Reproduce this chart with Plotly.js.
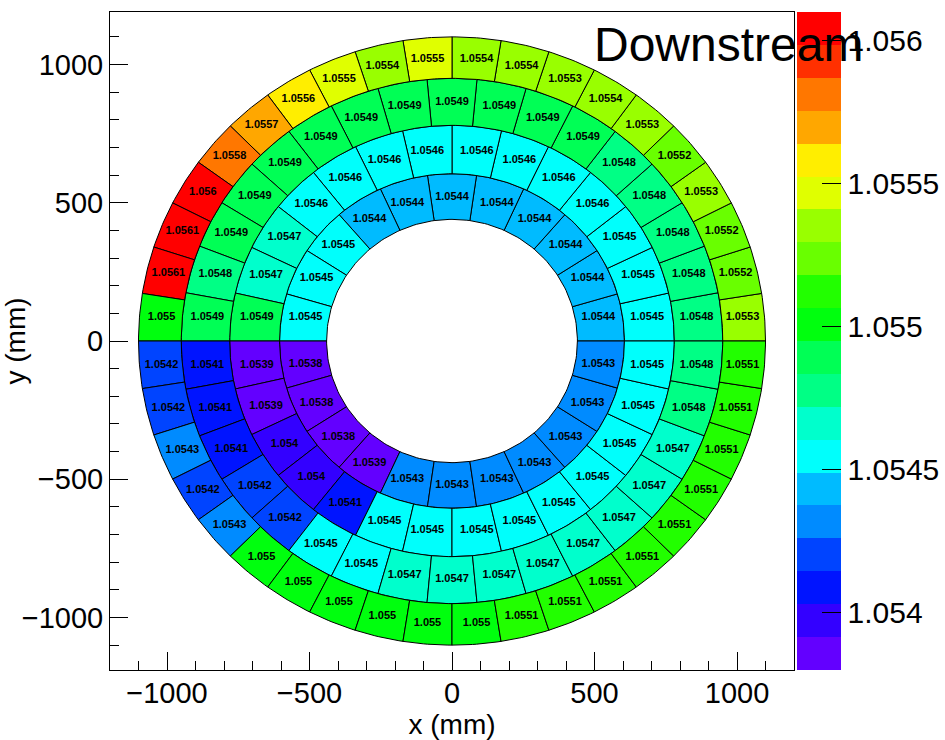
<!DOCTYPE html>
<html>
<head>
<meta charset="utf-8">
<script src="https://cdn.plot.ly/plotly-3.0.1.min.js"></script>
<style>
  html, body { margin: 0; padding: 0; background: #ffffff; }
  #plot { width: 945px; height: 740px; }
</style>
</head>
<body>
<div id="plot"></div>
<script>
// Ring boundaries in mm, from the inner hole outwards
const ringEdges = [440, 605, 780, 950, 1100];

// Sector values for each ring. Sector 0 starts on the +x axis,
// sectors run counter-clockwise with equal angular width.
const ring1 = [
  1.0544, 1.0544, 1.0544, 1.0544, 1.0544, 1.0544, 1.0544, 1.0544, 1.0545, 1.0545, 1.0545,
  1.0538, 1.0538, 1.0538, 1.0539, 1.0543, 1.0543, 1.0543, 1.0543, 1.0543, 1.0543, 1.0543
];
const ring2 = [
  1.0545, 1.0545, 1.0545, 1.0546, 1.0546, 1.0546, 1.0546, 1.0546, 1.0546, 1.0546, 1.0546, 1.0547, 1.0547, 1.0549,
  1.0539, 1.0539, 1.054, 1.054, 1.0541, 1.0545, 1.0545, 1.0545, 1.0545, 1.0545, 1.0545, 1.0545, 1.0545, 1.0545
];
const ring3 = [
  1.0548, 1.0548, 1.0548, 1.0548, 1.0548, 1.0549, 1.0549, 1.0549, 1.0549, 1.0549, 1.0549, 1.0549, 1.0549, 1.0549, 1.0549, 1.0548, 1.0549,
  1.0541, 1.0541, 1.0541, 1.0542, 1.0542, 1.0545, 1.0545, 1.0547, 1.0547, 1.0547, 1.0547, 1.0547, 1.0547, 1.0547, 1.0547, 1.0548, 1.0548
];
const ring4 = [
  1.0553, 1.0552, 1.0552, 1.0553, 1.0552, 1.0553, 1.0554, 1.0553, 1.0554, 1.0554,
  1.0555, 1.0554, 1.0555, 1.0556, 1.0557, 1.0558, 1.056, 1.0561, 1.0561, 1.055,
  1.0542, 1.0542, 1.0543, 1.0542, 1.0543, 1.055, 1.055, 1.055, 1.055, 1.055,
  1.055, 1.0551, 1.0551, 1.0551, 1.0551, 1.0551, 1.0551, 1.0551, 1.0551, 1.0551
];
const rings = [ring1, ring2, ring3, ring4];

// Colour axis
const zMin = 1.0538;
const zMax = 1.0561;
const zTicks = [1.054, 1.0545, 1.055, 1.0555, 1.056];
const zTickText = ['1.054', '1.0545', '1.055', '1.0555', '1.056'];

// Axis tick labels
const xTicks = [-1000, -500, 0, 500, 1000];
const yTicks = [-1000, -500, 0, 500, 1000];

// 20 contour bands taken from the 50-colour "pretty" rainbow palette
const bandColors = [
  '#6300ff', '#3300ff', '#0014ff', '#0044ff', '#008bff',
  '#00bbff', '#00fffc', '#00ffcc', '#00ff85', '#00ff55',
  '#00ff0e', '#22ff00', '#69ff00', '#99ff00', '#e0ff00',
  '#ffee00', '#ffa700', '#ff7700', '#ff3000', '#ff0000'
];
const nBands = bandColors.length;

const colorscale = [];
bandColors.forEach((c, k) => {
  colorscale.push([k / nBands, c]);
  colorscale.push([(k + 1) / nBands, c]);
});

function colorFor(v) {
  let k = Math.floor((v - zMin) / (zMax - zMin) * nBands + 1e-9);
  k = Math.max(0, Math.min(nBands - 1, k));
  return bandColors[k];
}

const FONT = 'Liberation Sans, Arial, Helvetica, sans-serif';
const arcSteps = 12;

const traces = [];
const labelX = [], labelY = [], labelText = [], labelVal = [];

rings.forEach((vals, j) => {
  const n = vals.length;
  const rIn = ringEdges[j], rOut = ringEdges[j + 1];
  vals.forEach((v, i) => {
    const a0 = i * 2 * Math.PI / n;
    const a1 = (i + 1) * 2 * Math.PI / n;
    const xs = [], ys = [];
    for (let s = 0; s <= arcSteps; s++) {
      const a = a0 + (a1 - a0) * s / arcSteps;
      xs.push(rOut * Math.cos(a)); ys.push(rOut * Math.sin(a));
    }
    for (let s = arcSteps; s >= 0; s--) {
      const a = a0 + (a1 - a0) * s / arcSteps;
      xs.push(rIn * Math.cos(a)); ys.push(rIn * Math.sin(a));
    }
    xs.push(xs[0]); ys.push(ys[0]);
    traces.push({
      type: 'scatter', mode: 'lines', x: xs, y: ys,
      fill: 'toself', fillcolor: colorFor(v),
      line: { color: '#000000', width: 1 },
      hoverinfo: 'skip', showlegend: false
    });
    // bin label sits at the centre of the bin's bounding box
    labelX.push((Math.min(...xs) + Math.max(...xs)) / 2);
    labelY.push((Math.min(...ys) + Math.max(...ys)) / 2);
    labelText.push(String(v));
    labelVal.push(v);
  });
});

// Bin labels; this trace also carries the colour bar
traces.push({
  type: 'scatter', mode: 'markers+text',
  x: labelX, y: labelY, text: labelText,
  textposition: 'middle center',
  textfont: { family: FONT, size: 11, color: '#000000', weight: 'bold' },
  hoverinfo: 'skip', showlegend: false,
  marker: {
    size: 0, color: labelVal, colorscale: colorscale,
    cmin: zMin, cmax: zMax, showscale: true,
    colorbar: {
      x: 1.0044, xanchor: 'left', y: 0.5, yanchor: 'middle',
      len: 1, lenmode: 'fraction', thickness: 44, thicknessmode: 'pixels',
      xpad: 0, ypad: 0, outlinewidth: 0,
      tickmode: 'array', tickvals: zTicks, ticktext: zTickText,
      ticks: 'inside', ticklen: 19, tickwidth: 1, tickcolor: '#000000',
      tickfont: { family: FONT, size: 30, color: '#000000' }
    }
  }
});

const axisCommon = {
  tickmode: 'array',
  ticks: 'inside', ticklen: 18, tickwidth: 1, tickcolor: '#000000',
  minor: { dtick: 100, ticks: 'inside', ticklen: 9, tickwidth: 1, tickcolor: '#000000', showgrid: false },
  showline: true, linecolor: '#000000', linewidth: 1, mirror: true,
  showgrid: false, zeroline: false,
  tickfont: { family: FONT, size: 29, color: '#000000' }
};

const layout = {
  width: 945, height: 740,
  margin: { l: 110, r: 151, t: 12, b: 70, autoexpand: false },
  paper_bgcolor: '#ffffff', plot_bgcolor: '#ffffff',
  xaxis: Object.assign({}, axisCommon, {
    range: [-1200, 1200], tickvals: xTicks, ticklabelstandoff: -3,
    title: { text: 'x (mm)', font: { family: FONT, size: 28, color: '#000000' }, standoff: 0 }
  }),
  yaxis: Object.assign({}, axisCommon, {
    range: [-1190, 1190], tickvals: yTicks,
    title: { text: 'y (mm)', font: { family: FONT, size: 28, color: '#000000' }, standoff: 0 }
  }),
  annotations: [{
    text: 'Downstream', xref: 'paper', yref: 'paper',
    x: 0.705, y: 0.95, xanchor: 'left', yanchor: 'middle',
    showarrow: false, font: { family: FONT, size: 48, color: '#000000' }
  }],
  showlegend: false
};

Plotly.newPlot('plot', traces, layout, { displayModeBar: false, staticPlot: true });
</script>
</body>
</html>
